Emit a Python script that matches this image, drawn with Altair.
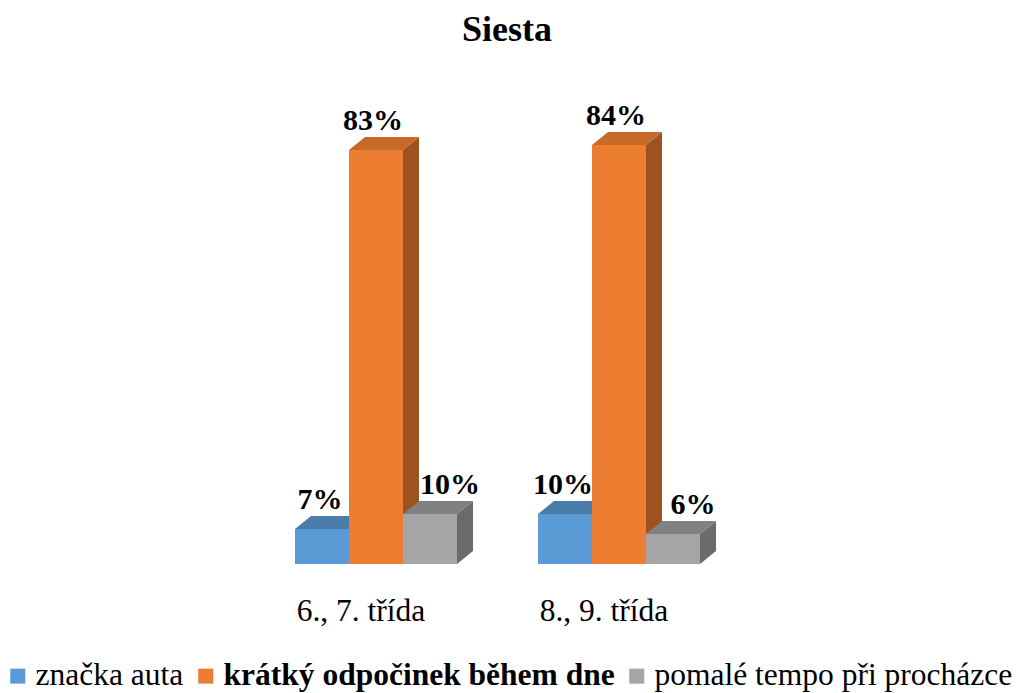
import altair as alt
import pandas as pd

# ---- data ----
categories = ["6., 7. třída", "8., 9. třída"]
series = ["značka auta", "krátký odpočinek během dne", "pomalé tempo při procházce"]
znacka_auta = [7, 10]
kratky_odpocinek = [83, 84]
pomale_tempo = [10, 6]
values_by_series = [znacka_auta, kratky_odpocinek, pomale_tempo]

# ---- styling ----
front_colors = ["#5B9BD5", "#ED7D31", "#A5A5A5"]
top_colors = ["#497CAA", "#C76929", "#818181"]
side_colors = ["#3E6A93", "#9C5320", "#6B6B6B"]
label_dx = [-2, -3, 20]
FONT = "Liberation Serif"

W, H = 540, 464
X_DOMAIN = [-1, 9]          # x units = one bar width
Y_DOMAIN = [0, 93]          # percent
GROUP_STEP = 4.5            # bar widths from one group to the next
PX_PER_X = W / (X_DOMAIN[1] - X_DOMAIN[0])
PX_PER_Y = H / (Y_DOMAIN[1] - Y_DOMAIN[0])
DEPTH_X = 16 / PX_PER_X     # 3D depth, 16 px right
DEPTH_Y = 13 / PX_PER_Y     # and 13 px up

xs = alt.Scale(domain=X_DOMAIN, nice=False, zero=False)
ys = alt.Scale(domain=Y_DOMAIN, nice=False)


def frames(s):
    vals = values_by_series[s]
    fronts, tops, sides = [], [], []
    for g, cat in enumerate(categories):
        v = vals[g]
        x0 = g * GROUP_STEP + s
        x1 = x0 + 1
        face = f"{g}-{s}"
        fronts.append(dict(cat=cat, series=series[s], v=v, base=0, x0=x0, x1=x1,
                           xc=(x0 + x1) / 2, label=f"{v}%"))
        tops += [
            dict(face=face, x=x0, lo=v, hi=v),
            dict(face=face, x=x0 + DEPTH_X, lo=v, hi=v + DEPTH_Y),
            dict(face=face, x=x1, lo=v, hi=v + DEPTH_Y),
            dict(face=face, x=x1 + DEPTH_X, lo=v + DEPTH_Y, hi=v + DEPTH_Y),
        ]
        sides += [
            dict(face=face, x=x1, lo=0, hi=v),
            dict(face=face, x=x1 + DEPTH_X, lo=DEPTH_Y, hi=v + DEPTH_Y),
        ]
    return pd.DataFrame(fronts), pd.DataFrame(tops), pd.DataFrame(sides)


legend = alt.Legend(
    title=None, orient="none", legendX=-239, legendY=560, direction="horizontal",
    columns=3, symbolType="square", symbolSize=225, symbolStrokeWidth=0,
    labelFont=FONT, labelFontSize=31.5, labelColor="black", labelOffset=2,
    columnPadding=6, labelLimit=1000, padding=0,
    labelFontWeight={"expr": f"datum.label === '{series[1]}' ? 'bold' : 'normal'"},
)

layers = []
texts = []
for s in range(len(series)):
    fdf, tdf, sdf = frames(s)
    side = alt.Chart(sdf).mark_area(color=side_colors[s], interpolate="linear").encode(
        x=alt.X("x:Q", scale=xs, axis=None),
        y=alt.Y("lo:Q", scale=ys, axis=None, stack=None),
        y2="hi:Q",
        detail="face:N",
    )
    top = alt.Chart(tdf).mark_area(color=top_colors[s], interpolate="linear").encode(
        x=alt.X("x:Q", scale=xs, axis=None),
        y=alt.Y("lo:Q", scale=ys, axis=None, stack=None),
        y2="hi:Q",
        detail="face:N",
    )
    front = alt.Chart(fdf).mark_bar(strokeWidth=0).encode(
        x=alt.X("x0:Q", scale=xs, axis=None),
        x2="x1:Q",
        y=alt.Y("v:Q", scale=ys, axis=None),
        y2="base:Q",
        color=alt.Color("series:N", scale=alt.Scale(domain=series, range=front_colors),
                        legend=legend),
    )
    layers += [side, top, front]
    texts.append(
        alt.Chart(fdf).mark_text(font=FONT, fontSize=30, fontWeight="bold", color="black",
                                 baseline="alphabetic", dx=label_dx[s], dy=-20).encode(
            x=alt.X("xc:Q", scale=xs, axis=None),
            y=alt.Y("v:Q", scale=ys, axis=None),
            text="label:N",
        )
    )

cat_df = pd.DataFrame(dict(cat=categories,
                           xc=[g * GROUP_STEP + len(series) / 2 for g in range(len(categories))],
                           base=0))
cat_text = alt.Chart(cat_df).mark_text(font=FONT, fontSize=31.5, color="black",
                                       baseline="alphabetic", dx=-15, dy=57).encode(
    x=alt.X("xc:Q", scale=xs, axis=None),
    y=alt.Y("base:Q", scale=ys, axis=None),
    text="cat:N",
)

chart = alt.layer(*layers, *texts, cat_text).properties(
    width=W, height=H,
    title=alt.TitleParams("Siesta", font=FONT, fontSize=36, fontWeight="bold", color="black",
                          anchor="middle", offset=51, dx=-4),
    padding={"left": 233, "top": 92, "right": 231, "bottom": 129},
    autosize=alt.AutoSizeParams(type="none"),
    background="white",
).configure_view(stroke=None)

chart.save("out.html", embed_options={"renderer": "svg", "actions": False})
